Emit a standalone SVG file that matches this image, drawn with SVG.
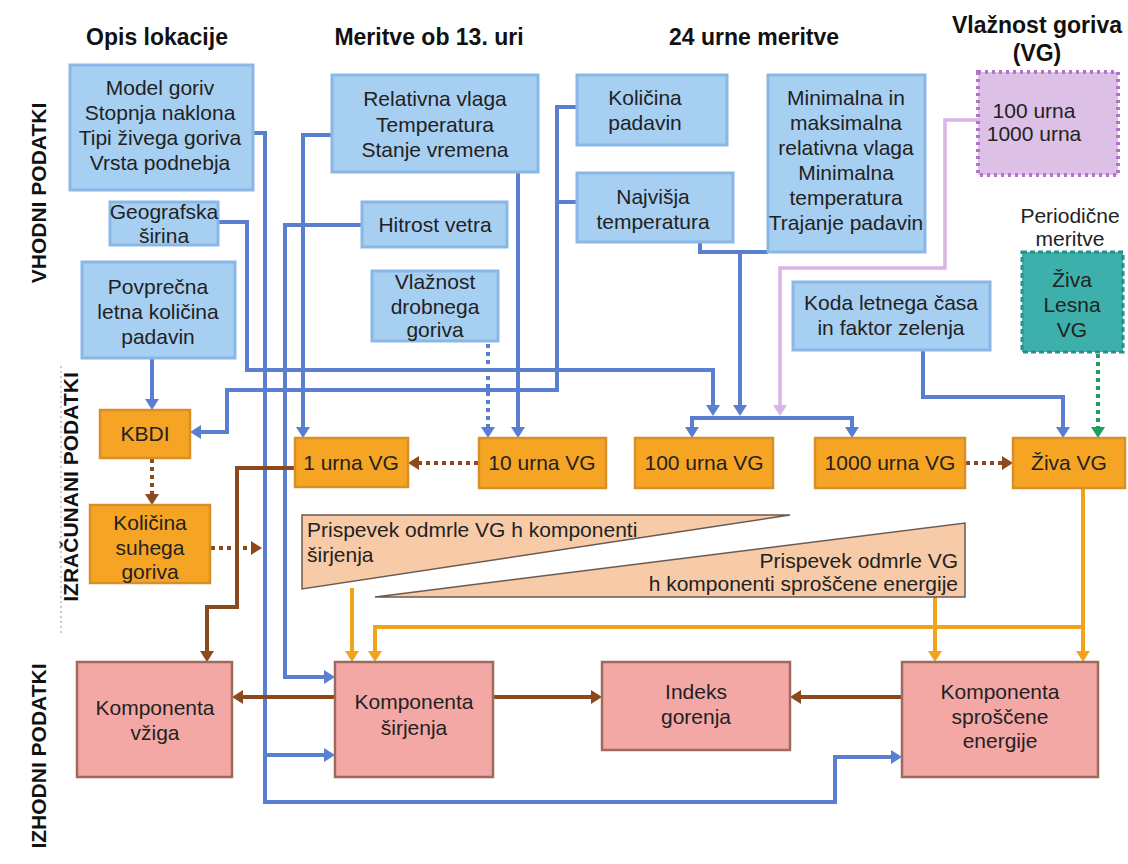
<svg xmlns="http://www.w3.org/2000/svg" width="1128" height="864" viewBox="0 0 1128 864">
<style>
text{font-family:"Liberation Sans",Arial,sans-serif;fill:#222}
.h{font-weight:bold;font-size:23px;text-anchor:middle;fill:#111}
.side{font-weight:bold;font-size:21px;text-anchor:middle;fill:#111}
.t{font-size:21px;text-anchor:middle}
.blue{fill:#a6cff2;stroke:#8ab8e6;stroke-width:3}
.org{fill:#f5a523;stroke:#d98f28;stroke-width:2.5}
.pink{fill:#f4a8a6;stroke:#9e6a5c;stroke-width:2.5}
.tan{fill:#f8cba8;stroke:#6b5a50;stroke-width:1.5}
.cb{fill:none;stroke:#5a7fd0;stroke-width:4}
.co{fill:none;stroke:#f2a31c;stroke-width:4}
.cr{fill:none;stroke:#8c4a1c;stroke-width:4}
.dot{stroke-dasharray:4 4}
</style>
<defs>
<marker id="ab" markerUnits="userSpaceOnUse" markerWidth="11" markerHeight="14" viewBox="0 0 11 14" refX="0" refY="7" orient="auto"><path d="M0,0 L11,7 L0,14 z" fill="#5a7fd0"/></marker>
<marker id="ao" markerUnits="userSpaceOnUse" markerWidth="11" markerHeight="14" viewBox="0 0 11 14" refX="0" refY="7" orient="auto"><path d="M0,0 L11,7 L0,14 z" fill="#f2a31c"/></marker>
<marker id="ar" markerUnits="userSpaceOnUse" markerWidth="11" markerHeight="14" viewBox="0 0 11 14" refX="0" refY="7" orient="auto"><path d="M0,0 L11,7 L0,14 z" fill="#8c4a1c"/></marker>
<marker id="al" markerUnits="userSpaceOnUse" markerWidth="11" markerHeight="14" viewBox="0 0 11 14" refX="0" refY="7" orient="auto"><path d="M0,0 L11,7 L0,14 z" fill="#d9b4e4"/></marker>
<marker id="ag" markerUnits="userSpaceOnUse" markerWidth="11" markerHeight="14" viewBox="0 0 11 14" refX="0" refY="7" orient="auto"><path d="M0,0 L11,7 L0,14 z" fill="#1f9e5e"/></marker>
</defs>
<rect width="1128" height="864" fill="#ffffff"/>

<!-- headers -->
<g id="headers">
<text class="h" x="157" y="45">Opis lokacije</text>
<text class="h" x="429" y="45">Meritve ob 13. uri</text>
<text class="h" x="754" y="45">24 urne meritve</text>
<text class="h" x="1037" y="33" font-size="22">Vlažnost goriva</text>
<text class="h" x="1037" y="61" font-size="22">(VG)</text>
<text class="side" transform="translate(46,193) rotate(-90)">VHODNI PODATKI</text>
<text class="side" transform="translate(78,487) rotate(-90)">IZRAČUNANI PODATKI</text>
<text class="side" transform="translate(46,756) rotate(-90)">IZHODNI PODATKI</text>
<line x1="61" y1="366" x2="61" y2="634" stroke="#aaaaaa" stroke-width="1.2" stroke-dasharray="2 3"/>
</g>

<!-- connectors -->
<g id="connectors">
<path class="cb" d="M253,133 H265 V802 H835 V757 H891" marker-end="url(#ab)"/>
<path class="cb" d="M265,755 H324" marker-end="url(#ab)"/>
<path class="cb" d="M362,225 H285 V677 H324" marker-end="url(#ab)"/>
<path class="cb" d="M332,135 H303 V427" marker-end="url(#ab)"/>
<path class="cb" d="M518,172 V427" marker-end="url(#ab)"/>
<path class="cb dot" d="M488,344 V427" marker-end="url(#ab)"/>
<path class="cb" d="M218,222 H247 V370 H713 V405" marker-end="url(#ab)"/>
<path class="cb" d="M577,107 H557 V390 H227 V432 H201" marker-end="url(#ab)"/>
<path class="cb" d="M577,202 H557"/>
<path class="cb" d="M152,359 V399" marker-end="url(#ab)"/>
<path class="cb" d="M700,242 V252 H768"/>
<path class="cb" d="M740,252 V405" marker-end="url(#ab)"/>
<path class="cb" d="M852,418 H692 V427" marker-end="url(#ab)"/>
<path class="cb" d="M692,418 H852 V427" marker-end="url(#ab)"/>
<path class="cb" d="M923,350 V397 H1063 V427" marker-end="url(#ab)"/>
<path d="M978,120 H945 V268 H780 V405" fill="none" stroke="#d9b4e4" stroke-width="3.5" marker-end="url(#al)"/>
<path d="M1098,354 V427" fill="none" stroke="#1f9e5e" stroke-width="4" stroke-dasharray="4 4" marker-end="url(#ag)"/>
<path class="co" d="M352,588 V651" marker-end="url(#ao)"/>
<path class="co" d="M1083,488 V651" marker-end="url(#ao)"/>
<path class="co" d="M1083,627 H375 V651" marker-end="url(#ao)"/>
<path class="co" d="M935,597 V651" marker-end="url(#ao)"/>
<path class="cr dot" d="M152,459 V494" marker-end="url(#ar)"/>
<path class="cr dot" d="M211,548 H251" marker-end="url(#ar)"/>
<path class="cr dot" d="M478,463 H419" marker-end="url(#ar)"/>
<path class="cr dot" d="M966,463 H1002" marker-end="url(#ar)"/>
<path class="cr" d="M295,468 H237 V607 H207 V651" marker-end="url(#ar)"/>
<path class="cr" d="M335,697 H243" marker-end="url(#ar)"/>
<path class="cr" d="M493,697 H591" marker-end="url(#ar)"/>
<path class="cr" d="M902,697 H801" marker-end="url(#ar)"/>
</g>

<!-- input nodes -->
<g id="model-goriv"><rect class="blue" x="70" y="65" width="183" height="125"/>
<text class="t" x="160" y="95">Model goriv</text><text class="t" x="160" y="120">Stopnja naklona</text><text class="t" x="160" y="145">Tipi živega goriva</text><text class="t" x="160" y="170">Vrsta podnebja</text></g>
<g id="geografska"><rect class="blue" x="110" y="202" width="108" height="43"/>
<text class="t" x="164" y="219">Geografska</text><text class="t" x="164" y="243">širina</text></g>
<g id="povprecna"><rect class="blue" x="82" y="262" width="153" height="96"/>
<text class="t" x="158" y="294">Povprečna</text><text class="t" x="158" y="319">letna količina</text><text class="t" x="158" y="344">padavin</text></g>
<g id="relativna"><rect class="blue" x="332" y="75" width="206" height="97"/>
<text class="t" x="435" y="106">Relativna vlaga</text><text class="t" x="435" y="132">Temperatura</text><text class="t" x="435" y="157">Stanje vremena</text></g>
<g id="hitrost"><rect class="blue" x="362" y="202" width="145" height="45"/>
<text class="t" x="435" y="232">Hitrost vetra</text></g>
<g id="vlaznost-drobnega"><rect class="blue" x="372" y="271" width="126" height="70"/>
<text class="t" x="435" y="289">Vlažnost</text><text class="t" x="435" y="314">drobnega</text><text class="t" x="435" y="337">goriva</text></g>
<g id="kolicina-padavin"><rect class="blue" x="577" y="75" width="150" height="70"/>
<text class="t" x="645" y="105">Količina</text><text class="t" x="645" y="130">padavin</text></g>
<g id="najvisja"><rect class="blue" x="577" y="173" width="156" height="69"/>
<text class="t" x="653" y="204">Najvišja</text><text class="t" x="653" y="229">temperatura</text></g>
<g id="minimalna"><rect class="blue" x="768" y="75" width="157" height="177"/>
<text class="t" x="846" y="105">Minimalna in</text><text class="t" x="846" y="130">maksimalna</text><text class="t" x="846" y="155">relativna vlaga</text><text class="t" x="846" y="180">Minimalna</text><text class="t" x="846" y="205">temperatura</text><text class="t" x="846" y="230">Trajanje padavin</text></g>
<g id="vg-100-1000"><rect x="978" y="72" width="140" height="103" fill="#dcc0e6" stroke="#b472c8" stroke-width="4" stroke-dasharray="3 4"/>
<text class="t" x="1034" y="118" font-size="18">100 urna</text><text class="t" x="1034" y="141" font-size="18">1000 urna</text></g>
<g id="periodicne"><text class="t" x="1070" y="223" font-size="19">Periodične</text><text class="t" x="1070" y="246" font-size="19">meritve</text></g>
<g id="ziva-lesna"><rect x="1022" y="252" width="101" height="100" fill="#3db0ac" stroke="#24908c" stroke-width="3" stroke-dasharray="5 3"/>
<text class="t" x="1072" y="287">Živa</text><text class="t" x="1072" y="312">Lesna</text><text class="t" x="1072" y="337">VG</text></g>
<g id="koda"><rect class="blue" x="793" y="282" width="197" height="68"/>
<text class="t" x="891" y="310">Koda letnega časa</text><text class="t" x="891" y="335">in faktor zelenja</text></g>

<!-- computed nodes -->
<g id="kbdi"><rect class="org" x="100" y="410" width="90" height="48"/><text class="t" x="145" y="441">KBDI</text></g>
<g id="vg1"><rect class="org" x="295" y="438" width="113" height="49"/><text class="t" x="351" y="470">1 urna VG</text></g>
<g id="vg10"><rect class="org" x="479" y="438" width="127" height="50"/><text class="t" x="542" y="470">10 urna VG</text></g>
<g id="vg100"><rect class="org" x="635" y="438" width="138" height="50"/><text class="t" x="704" y="470">100 urna VG</text></g>
<g id="vg1000"><rect class="org" x="815" y="438" width="150" height="50"/><text class="t" x="890" y="470">1000 urna VG</text></g>
<g id="ziva-vg"><rect class="org" x="1013" y="438" width="112" height="50"/><text class="t" x="1069" y="470">Živa VG</text></g>
<g id="suhega"><rect class="org" x="90" y="505" width="120" height="78"/>
<text class="t" x="150" y="530">Količina</text><text class="t" x="150" y="555">suhega</text><text class="t" x="150" y="579">goriva</text></g>
<g id="prispevek-sirjenja"><polygon class="tan" points="302,515 790,515 302,589"/>
<text x="307" y="537" font-size="21">Prispevek odmrle VG h komponenti</text><text x="307" y="562" font-size="21">širjenja</text></g>
<g id="prispevek-energije"><polygon class="tan" points="965,523 965,597 375,597"/>
<text x="958" y="568" font-size="21" text-anchor="end">Prispevek odmrle VG</text><text x="958" y="591" font-size="21" text-anchor="end">h komponenti sproščene energije</text></g>

<!-- output nodes -->
<g id="vziga"><rect class="pink" x="77" y="662" width="155" height="115"/>
<text class="t" x="155" y="715">Komponenta</text><text class="t" x="155" y="740">vžiga</text></g>
<g id="sirjenja"><rect class="pink" x="335" y="662" width="158" height="115"/>
<text class="t" x="414" y="709">Komponenta</text><text class="t" x="414" y="735">širjenja</text></g>
<g id="indeks"><rect class="pink" x="602" y="662" width="188" height="88"/>
<text class="t" x="696" y="699">Indeks</text><text class="t" x="696" y="724">gorenja</text></g>
<g id="energije"><rect class="pink" x="902" y="662" width="196" height="115"/>
<text class="t" x="1000" y="699">Komponenta</text><text class="t" x="1000" y="724">sproščene</text><text class="t" x="1000" y="748">energije</text></g>
</svg>
